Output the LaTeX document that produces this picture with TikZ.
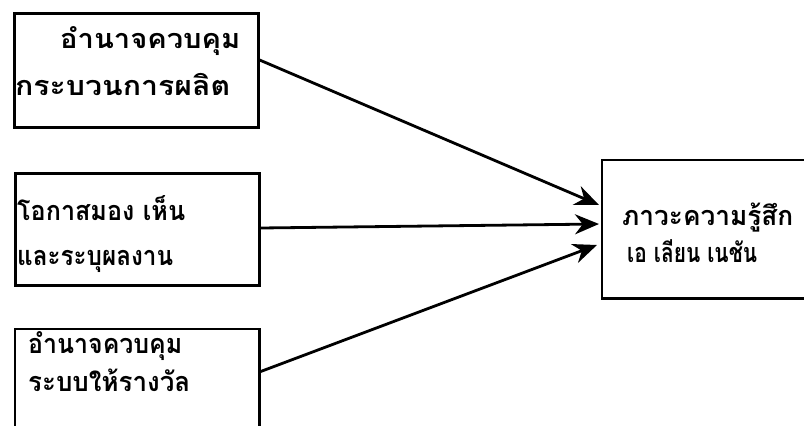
\documentclass[tikz,border=0pt]{standalone}
\usepackage{graphicx}
\usepackage{fontspec}
\newfontfamily\thaifont[Script=Thai]{Loma}
\usetikzlibrary{arrows.meta}
\newcommand{\fitw}[2]{\resizebox{#1}{\height}{#2}}
\begin{document}
\begin{tikzpicture}[x=1pt,y=-1pt,
  box/.style={draw, line width=2.6pt, rectangle, inner sep=0pt, anchor=north west},
  openbox/.style={rectangle, inner sep=0pt, anchor=north west},
  boxline/.style={line width=2.6pt},
  lbl/.style={anchor=base west, inner sep=0pt, font=\thaifont\bfseries\fontsize{27}{32}\selectfont},
  conn/.style={line width=2.8pt, -{Stealth[length=24pt, width=20pt]}}]
\useasboundingbox (0,0) rectangle (804,426);
\fill[white] (0,0) rectangle (804,426);
\clip (0,0) rectangle (804,426);
\node[box, minimum width=244pt, minimum height=114pt] (b1) at (13,12) {};
\node[box, minimum width=244pt, minimum height=112pt] (b2) at (14,172) {};
\node[openbox, minimum width=244pt, minimum height=110pt] (b3) at (15,329) {};
\node[openbox, minimum width=230pt, minimum height=138pt] (b4) at (602,160) {};
\draw[boxline] (b3.south west) -- (b3.north west) -- (b3.north east) -- (b3.south east);
\draw[boxline] (b4.north east) -- (b4.north west) -- (b4.south west) -- (b4.south east);
\node[lbl] (t1a) at (60,48) {\fitw{180pt}{อำนาจควบคุม}};
\node[lbl] (t1b) at (15,95) {\fitw{215pt}{กระบวนการผลิต}};
\node[lbl] (t2a) at (17,220) {\fitw{168pt}{โอกาสมอง เห็น}};
\node[lbl] (t2b) at (17,265) {\fitw{156pt}{และระบุผลงาน}};
\node[lbl] (t3a) at (28,353) {\fitw{154pt}{อำนาจควบคุม}};
\node[lbl] (t3b) at (28,391) {\fitw{162pt}{ระบบให้รางวัล}};
\node[lbl] (t4a) at (622,225) {\fitw{171pt}{ภาวะความรู้สึก}};
\node[lbl] (t4b) at (627,262) {\fitw{130pt}{เอ เลียน เนชัน}};
\coordinate (s1) at (b1.north east |- 0,60);
\coordinate (s2) at (b2.north east |- 0,228);
\coordinate (s3) at (b3.north east |- 0,372);
\coordinate (e1) at (599,205);
\coordinate (e2) at (599,224);
\coordinate (e3) at (597,245);
\draw[conn] (s1) -- (e1);
\draw[conn] (s2) -- (e2);
\draw[conn] (s3) -- (e3);
\end{tikzpicture}
\end{document}
